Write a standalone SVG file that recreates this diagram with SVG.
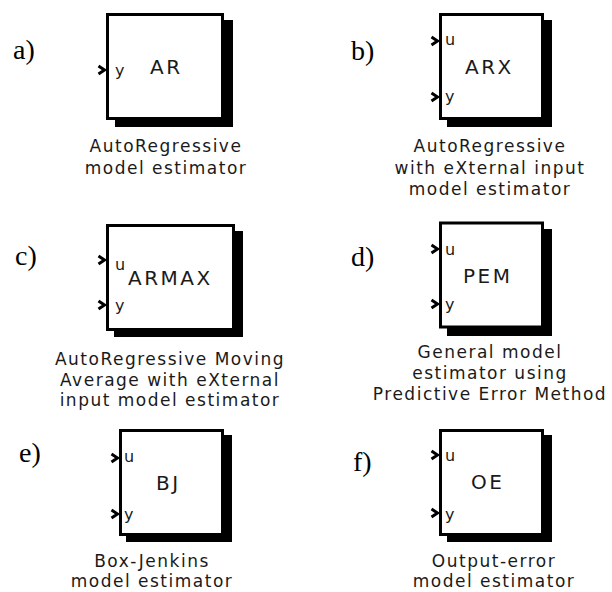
<svg xmlns="http://www.w3.org/2000/svg" width="612" height="592" viewBox="0 0 612 592">
<style>
.shadow{fill:#000;}
.box{fill:#fff;stroke:#000;stroke-width:3;}
.port{fill:none;stroke:#000;stroke-width:3;stroke-linejoin:miter;}
.tag{font-family:"Liberation Serif","Times New Roman",serif;font-size:28px;fill:#000;}
.pl{font-family:"DejaVu Sans",sans-serif;font-size:16px;fill:#1a1a1a;}
.bl{font-family:"DejaVu Sans",sans-serif;font-size:20px;letter-spacing:2.5px;fill:#1a1a1a;}
.cap{font-family:"DejaVu Sans",sans-serif;font-size:17px;letter-spacing:1.5px;fill:#1a1a1a;text-anchor:middle;}
</style>
<rect width="612" height="592" fill="#fff"/>
<g id="connectors"></g>

<g id="node-a">
<text class="tag" x="13" y="59">a)</text>
<rect class="shadow" x="115" y="20" width="118" height="107"/>
<rect class="box" x="107.5" y="14.5" width="115" height="104"/>
<polyline class="port" points="98.5,66 104.5,70 98.5,74"/>
<text class="pl" x="115" y="76">y</text>
<text class="bl" x="150" y="74">AR</text>
<text class="cap" x="166" y="152">AutoRegressive</text>
<text class="cap" x="166" y="173.5">model estimator</text>
</g>

<g id="node-b">
<text class="tag" x="351" y="60">b)</text>
<rect class="shadow" x="447" y="20" width="105" height="107"/>
<rect class="box" x="440.5" y="14.5" width="102" height="104"/>
<polyline class="port" points="431.5,37 437.5,41 431.5,45"/>
<polyline class="port" points="431.5,93 437.5,97 431.5,101"/>
<text class="pl" x="445" y="45">u</text>
<text class="pl" x="445" y="102">y</text>
<text class="bl" x="465" y="74">ARX</text>
<text class="cap" x="490" y="152">AutoRegressive</text>
<text class="cap" x="490" y="173.5">with eXternal input</text>
<text class="cap" x="490" y="195">model estimator</text>
</g>

<g id="node-c">
<text class="tag" x="15" y="265">c)</text>
<rect class="shadow" x="114" y="231" width="129" height="106"/>
<rect class="box" x="107.5" y="225.5" width="126" height="104"/>
<polyline class="port" points="98.5,256 104.5,260 98.5,264"/>
<polyline class="port" points="98.5,301 104.5,305 98.5,309"/>
<text class="pl" x="115" y="270">u</text>
<text class="pl" x="115" y="311">y</text>
<text class="bl" x="128" y="285">ARMAX</text>
<text class="cap" x="170" y="365">AutoRegressive Moving</text>
<text class="cap" x="170" y="385.5">Average with eXternal</text>
<text class="cap" x="170" y="406">input model estimator</text>
</g>

<g id="node-d">
<text class="tag" x="351" y="266">d)</text>
<rect class="shadow" x="447" y="229" width="105" height="107"/>
<rect class="box" x="440.5" y="223" width="102" height="104"/>
<polyline class="port" points="431.5,245 437.5,249 431.5,253"/>
<polyline class="port" points="431.5,300 437.5,304 431.5,308"/>
<text class="pl" x="445" y="255">u</text>
<text class="pl" x="445" y="310">y</text>
<text class="bl" x="463" y="283">PEM</text>
<text class="cap" x="490" y="358">General model</text>
<text class="cap" x="490" y="379">estimator using</text>
<text class="cap" x="490" y="400">Predictive Error Method</text>
</g>

<g id="node-e">
<text class="tag" x="19" y="462">e)</text>
<rect class="shadow" x="126" y="435" width="106" height="107"/>
<rect class="box" x="120.5" y="430.5" width="102" height="104"/>
<polyline class="port" points="111.5,454 117.5,458 111.5,462"/>
<polyline class="port" points="111.5,510 117.5,514 111.5,518"/>
<text class="pl" x="124" y="462">u</text>
<text class="pl" x="124" y="520">y</text>
<text class="bl" x="156" y="490">BJ</text>
<text class="cap" x="152" y="567">Box-Jenkins</text>
<text class="cap" x="152" y="587">model estimator</text>
</g>

<g id="node-f">
<text class="tag" x="353" y="471">f)</text>
<rect class="shadow" x="447" y="435" width="105" height="107"/>
<rect class="box" x="440.5" y="430.5" width="102" height="104"/>
<polyline class="port" points="431.5,451 437.5,455 431.5,459"/>
<polyline class="port" points="431.5,509 437.5,513 431.5,517"/>
<text class="pl" x="445" y="461">u</text>
<text class="pl" x="445" y="520">y</text>
<text class="bl" x="471" y="489">OE</text>
<text class="cap" x="494" y="567">Output-error</text>
<text class="cap" x="494" y="587">model estimator</text>
</g>
</svg>
